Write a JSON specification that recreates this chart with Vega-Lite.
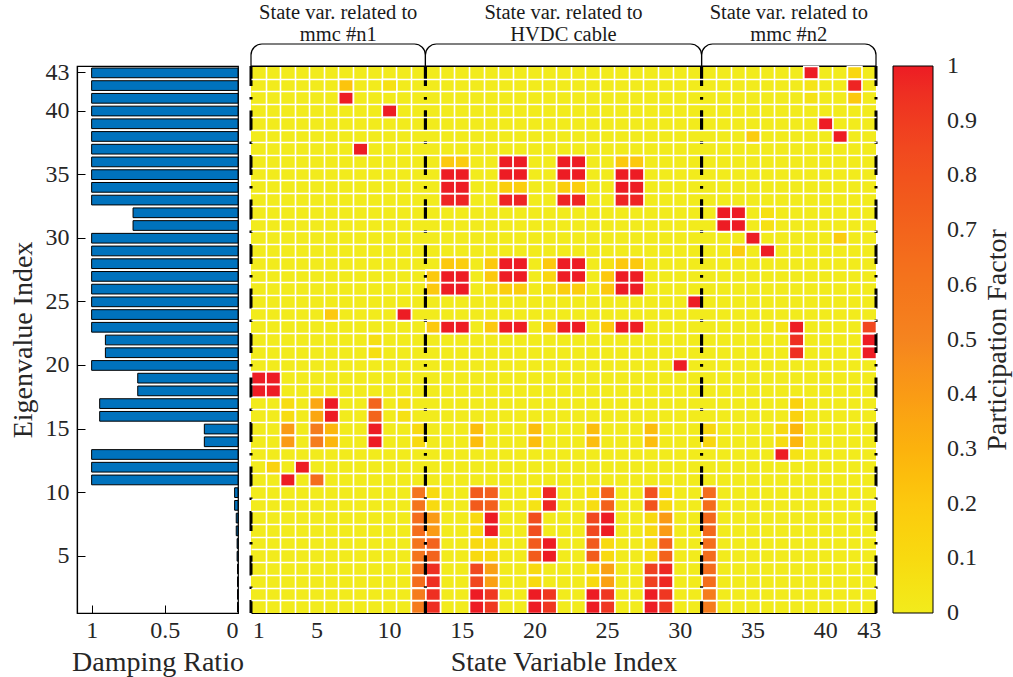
{
  "$schema": "https://vega.github.io/schema/vega-lite/v6.json",
  "background": "white",
  "padding": {"left": 8, "top": 0, "right": 2, "bottom": 0},
  "bounds": "flush",
  "columns": 2,
  "spacing": {"row": 0, "column": 13},
  "datasets": {
    "groups": [
      {"label": "State var. related to\nmmc #n1", "start": 0.5, "end": 12.5, "mid": 6.5},
      {"label": "State var. related to\nHVDC cable", "start": 12.5, "end": 31.5, "mid": 22},
      {"label": "State var. related to\nmmc #n2", "start": 31.5, "end": 43.5, "mid": 37.5}
    ],
    "damping": [
      {"e": 43, "d": 1}, {"e": 42, "d": 1}, {"e": 41, "d": 1}, {"e": 40, "d": 1}, {"e": 39, "d": 1},
      {"e": 38, "d": 1}, {"e": 37, "d": 1}, {"e": 36, "d": 1}, {"e": 35, "d": 1}, {"e": 34, "d": 1},
      {"e": 33, "d": 1}, {"e": 32, "d": 0.717}, {"e": 31, "d": 0.717}, {"e": 30, "d": 1}, {"e": 29, "d": 1},
      {"e": 28, "d": 1}, {"e": 27, "d": 1}, {"e": 26, "d": 1}, {"e": 25, "d": 1}, {"e": 24, "d": 1},
      {"e": 23, "d": 1}, {"e": 22, "d": 0.906}, {"e": 21, "d": 0.906}, {"e": 20, "d": 1}, {"e": 19, "d": 0.685},
      {"e": 18, "d": 0.685}, {"e": 17, "d": 0.945}, {"e": 16, "d": 0.945}, {"e": 15, "d": 0.23}, {"e": 14, "d": 0.23},
      {"e": 13, "d": 1}, {"e": 12, "d": 1}, {"e": 11, "d": 1}, {"e": 10, "d": 0.023}, {"e": 9, "d": 0.023},
      {"e": 8, "d": 0.012}, {"e": 7, "d": 0.012}, {"e": 6, "d": 0.006}, {"e": 5, "d": 0.006}, {"e": 4, "d": 0.003},
      {"e": 3, "d": 0.003}, {"e": 2, "d": 0.003}, {"e": 1, "d": 0.003}
    ],
    "cells": [
      {"r": 43, "c": 39, "v": 1}, {"r": 43, "c": 42, "v": 0.12},
      {"r": 42, "c": 7, "v": 0.22}, {"r": 42, "c": 10, "v": 0.06}, {"r": 42, "c": 39, "v": 0.04}, {"r": 42, "c": 42, "v": 0.98},
      {"r": 41, "c": 7, "v": 1}, {"r": 41, "c": 39, "v": 0.05}, {"r": 41, "c": 42, "v": 0.2},
      {"r": 40, "c": 10, "v": 1},
      {"r": 39, "c": 40, "v": 1},
      {"r": 38, "c": 35, "v": 0.18}, {"r": 38, "c": 41, "v": 1},
      {"r": 37, "c": 8, "v": 1},
      {"r": 36, "c": 14, "v": 0.2}, {"r": 36, "c": 15, "v": 0.18}, {"r": 36, "c": 18, "v": 1}, {"r": 36, "c": 19, "v": 1},
      {"r": 36, "c": 22, "v": 1}, {"r": 36, "c": 23, "v": 1}, {"r": 36, "c": 26, "v": 0.2}, {"r": 36, "c": 27, "v": 0.2},
      {"r": 35, "c": 14, "v": 1}, {"r": 35, "c": 15, "v": 1}, {"r": 35, "c": 18, "v": 1}, {"r": 35, "c": 19, "v": 1},
      {"r": 35, "c": 22, "v": 1}, {"r": 35, "c": 23, "v": 1}, {"r": 35, "c": 26, "v": 1}, {"r": 35, "c": 27, "v": 1},
      {"r": 34, "c": 14, "v": 1}, {"r": 34, "c": 15, "v": 1}, {"r": 34, "c": 18, "v": 0.17}, {"r": 34, "c": 19, "v": 0.17},
      {"r": 34, "c": 22, "v": 0.17}, {"r": 34, "c": 23, "v": 0.17}, {"r": 34, "c": 26, "v": 1}, {"r": 34, "c": 27, "v": 1},
      {"r": 33, "c": 14, "v": 0.98}, {"r": 33, "c": 15, "v": 0.98}, {"r": 33, "c": 18, "v": 0.98}, {"r": 33, "c": 19, "v": 0.98},
      {"r": 33, "c": 22, "v": 0.98}, {"r": 33, "c": 23, "v": 0.98}, {"r": 33, "c": 26, "v": 0.98}, {"r": 33, "c": 27, "v": 0.98},
      {"r": 32, "c": 33, "v": 1}, {"r": 32, "c": 34, "v": 1}, {"r": 32, "c": 36, "v": 0.06},
      {"r": 31, "c": 33, "v": 1}, {"r": 31, "c": 34, "v": 1}, {"r": 31, "c": 36, "v": 0.06},
      {"r": 30, "c": 35, "v": 1}, {"r": 30, "c": 41, "v": 0.18},
      {"r": 29, "c": 34, "v": 0.18}, {"r": 29, "c": 36, "v": 1},
      {"r": 28, "c": 14, "v": 0.2}, {"r": 28, "c": 15, "v": 0.17}, {"r": 28, "c": 17, "v": 0.2}, {"r": 28, "c": 18, "v": 1},
      {"r": 28, "c": 19, "v": 1}, {"r": 28, "c": 21, "v": 0.2}, {"r": 28, "c": 22, "v": 1}, {"r": 28, "c": 23, "v": 1},
      {"r": 28, "c": 25, "v": 0.05}, {"r": 28, "c": 26, "v": 0.2}, {"r": 28, "c": 27, "v": 0.2},
      {"r": 27, "c": 13, "v": 0.2}, {"r": 27, "c": 14, "v": 1}, {"r": 27, "c": 15, "v": 1}, {"r": 27, "c": 17, "v": 0.2},
      {"r": 27, "c": 18, "v": 1}, {"r": 27, "c": 19, "v": 1}, {"r": 27, "c": 21, "v": 0.12}, {"r": 27, "c": 22, "v": 1},
      {"r": 27, "c": 23, "v": 1}, {"r": 27, "c": 25, "v": 0.2}, {"r": 27, "c": 26, "v": 1}, {"r": 27, "c": 27, "v": 1},
      {"r": 26, "c": 13, "v": 0.2}, {"r": 26, "c": 14, "v": 1}, {"r": 26, "c": 15, "v": 1}, {"r": 26, "c": 17, "v": 0.06},
      {"r": 26, "c": 18, "v": 0.17}, {"r": 26, "c": 19, "v": 0.17}, {"r": 26, "c": 21, "v": 0.06}, {"r": 26, "c": 22, "v": 0.17},
      {"r": 26, "c": 23, "v": 0.17}, {"r": 26, "c": 25, "v": 0.2}, {"r": 26, "c": 26, "v": 1}, {"r": 26, "c": 27, "v": 1},
      {"r": 25, "c": 31, "v": 1},
      {"r": 24, "c": 6, "v": 0.2}, {"r": 24, "c": 11, "v": 1},
      {"r": 23, "c": 13, "v": 0.2}, {"r": 23, "c": 14, "v": 1}, {"r": 23, "c": 15, "v": 1}, {"r": 23, "c": 17, "v": 0.2},
      {"r": 23, "c": 18, "v": 1}, {"r": 23, "c": 19, "v": 1}, {"r": 23, "c": 21, "v": 0.2}, {"r": 23, "c": 22, "v": 1},
      {"r": 23, "c": 23, "v": 1}, {"r": 23, "c": 25, "v": 0.2}, {"r": 23, "c": 26, "v": 1}, {"r": 23, "c": 27, "v": 1},
      {"r": 23, "c": 37, "v": 0.04}, {"r": 23, "c": 38, "v": 1}, {"r": 23, "c": 43, "v": 0.85},
      {"r": 22, "c": 9, "v": 0.07}, {"r": 22, "c": 38, "v": 0.95}, {"r": 22, "c": 43, "v": 1},
      {"r": 21, "c": 9, "v": 0.07}, {"r": 21, "c": 38, "v": 0.95}, {"r": 21, "c": 43, "v": 1},
      {"r": 20, "c": 30, "v": 1},
      {"r": 19, "c": 1, "v": 1}, {"r": 19, "c": 2, "v": 1},
      {"r": 18, "c": 1, "v": 1}, {"r": 18, "c": 2, "v": 1},
      {"r": 17, "c": 3, "v": 0.08}, {"r": 17, "c": 5, "v": 0.35}, {"r": 17, "c": 6, "v": 1}, {"r": 17, "c": 9, "v": 0.7},
      {"r": 17, "c": 11, "v": 0.06}, {"r": 17, "c": 38, "v": 0.15},
      {"r": 16, "c": 3, "v": 0.08}, {"r": 16, "c": 5, "v": 0.35}, {"r": 16, "c": 6, "v": 1}, {"r": 16, "c": 9, "v": 0.7},
      {"r": 16, "c": 11, "v": 0.06}, {"r": 16, "c": 38, "v": 0.15},
      {"r": 15, "c": 3, "v": 0.4}, {"r": 15, "c": 5, "v": 0.55}, {"r": 15, "c": 6, "v": 0.28}, {"r": 15, "c": 9, "v": 1},
      {"r": 15, "c": 12, "v": 0.1}, {"r": 15, "c": 16, "v": 0.25}, {"r": 15, "c": 20, "v": 0.25}, {"r": 15, "c": 24, "v": 0.25},
      {"r": 15, "c": 28, "v": 0.25}, {"r": 15, "c": 32, "v": 0.12}, {"r": 15, "c": 37, "v": 0.1}, {"r": 15, "c": 38, "v": 0.28},
      {"r": 14, "c": 3, "v": 0.4}, {"r": 14, "c": 5, "v": 0.55}, {"r": 14, "c": 6, "v": 0.28}, {"r": 14, "c": 9, "v": 1},
      {"r": 14, "c": 12, "v": 0.1}, {"r": 14, "c": 16, "v": 0.25}, {"r": 14, "c": 20, "v": 0.25}, {"r": 14, "c": 24, "v": 0.25},
      {"r": 14, "c": 28, "v": 0.25}, {"r": 14, "c": 32, "v": 0.12}, {"r": 14, "c": 37, "v": 0.08}, {"r": 14, "c": 38, "v": 0.28},
      {"r": 13, "c": 37, "v": 1}, {"r": 13, "c": 38, "v": 0.05},
      {"r": 12, "c": 2, "v": 0.15}, {"r": 12, "c": 4, "v": 1},
      {"r": 11, "c": 3, "v": 1}, {"r": 11, "c": 5, "v": 0.65},
      {"r": 10, "c": 12, "v": 0.6}, {"r": 10, "c": 13, "v": 0.1}, {"r": 10, "c": 16, "v": 0.75}, {"r": 10, "c": 17, "v": 0.72},
      {"r": 10, "c": 20, "v": 0.05}, {"r": 10, "c": 21, "v": 0.97}, {"r": 10, "c": 24, "v": 0.08}, {"r": 10, "c": 25, "v": 0.72},
      {"r": 10, "c": 28, "v": 0.8}, {"r": 10, "c": 29, "v": 0.1}, {"r": 10, "c": 32, "v": 0.65},
      {"r": 9, "c": 12, "v": 0.6}, {"r": 9, "c": 13, "v": 0.1}, {"r": 9, "c": 16, "v": 0.75}, {"r": 9, "c": 17, "v": 0.72},
      {"r": 9, "c": 20, "v": 0.05}, {"r": 9, "c": 21, "v": 0.97}, {"r": 9, "c": 24, "v": 0.08}, {"r": 9, "c": 25, "v": 0.72},
      {"r": 9, "c": 28, "v": 0.8}, {"r": 9, "c": 29, "v": 0.1}, {"r": 9, "c": 32, "v": 0.65},
      {"r": 8, "c": 12, "v": 0.65}, {"r": 8, "c": 13, "v": 0.4}, {"r": 8, "c": 16, "v": 0.1}, {"r": 8, "c": 17, "v": 1},
      {"r": 8, "c": 20, "v": 0.82}, {"r": 8, "c": 24, "v": 0.85}, {"r": 8, "c": 25, "v": 1}, {"r": 8, "c": 28, "v": 0.1},
      {"r": 8, "c": 29, "v": 0.4}, {"r": 8, "c": 32, "v": 0.68},
      {"r": 7, "c": 12, "v": 0.65}, {"r": 7, "c": 13, "v": 0.4}, {"r": 7, "c": 16, "v": 0.1}, {"r": 7, "c": 17, "v": 1},
      {"r": 7, "c": 20, "v": 0.82}, {"r": 7, "c": 24, "v": 0.85}, {"r": 7, "c": 25, "v": 1}, {"r": 7, "c": 28, "v": 0.1},
      {"r": 7, "c": 29, "v": 0.4}, {"r": 7, "c": 32, "v": 0.68},
      {"r": 6, "c": 12, "v": 0.6}, {"r": 6, "c": 13, "v": 0.7}, {"r": 6, "c": 16, "v": 0.1}, {"r": 6, "c": 17, "v": 0.1},
      {"r": 6, "c": 20, "v": 0.75}, {"r": 6, "c": 21, "v": 1}, {"r": 6, "c": 24, "v": 0.75}, {"r": 6, "c": 25, "v": 0.1},
      {"r": 6, "c": 28, "v": 0.08}, {"r": 6, "c": 29, "v": 0.72}, {"r": 6, "c": 32, "v": 0.65},
      {"r": 5, "c": 12, "v": 0.6}, {"r": 5, "c": 13, "v": 0.7}, {"r": 5, "c": 16, "v": 0.1}, {"r": 5, "c": 17, "v": 0.1},
      {"r": 5, "c": 20, "v": 0.75}, {"r": 5, "c": 21, "v": 1}, {"r": 5, "c": 24, "v": 0.75}, {"r": 5, "c": 25, "v": 0.1},
      {"r": 5, "c": 28, "v": 0.08}, {"r": 5, "c": 29, "v": 0.72}, {"r": 5, "c": 32, "v": 0.65},
      {"r": 4, "c": 12, "v": 0.65}, {"r": 4, "c": 13, "v": 0.95}, {"r": 4, "c": 16, "v": 0.85}, {"r": 4, "c": 17, "v": 0.38},
      {"r": 4, "c": 20, "v": 0.1}, {"r": 4, "c": 24, "v": 0.1}, {"r": 4, "c": 25, "v": 0.38}, {"r": 4, "c": 28, "v": 0.88},
      {"r": 4, "c": 29, "v": 0.97}, {"r": 4, "c": 32, "v": 0.65},
      {"r": 3, "c": 12, "v": 0.65}, {"r": 3, "c": 13, "v": 0.95}, {"r": 3, "c": 16, "v": 0.85}, {"r": 3, "c": 17, "v": 0.38},
      {"r": 3, "c": 20, "v": 0.1}, {"r": 3, "c": 24, "v": 0.1}, {"r": 3, "c": 25, "v": 0.38}, {"r": 3, "c": 28, "v": 0.88},
      {"r": 3, "c": 29, "v": 0.97}, {"r": 3, "c": 32, "v": 0.65},
      {"r": 2, "c": 12, "v": 0.55}, {"r": 2, "c": 13, "v": 0.95}, {"r": 2, "c": 16, "v": 1}, {"r": 2, "c": 17, "v": 0.92},
      {"r": 2, "c": 20, "v": 1}, {"r": 2, "c": 21, "v": 0.92}, {"r": 2, "c": 24, "v": 1}, {"r": 2, "c": 25, "v": 0.92},
      {"r": 2, "c": 28, "v": 1}, {"r": 2, "c": 29, "v": 0.92}, {"r": 2, "c": 32, "v": 0.55},
      {"r": 1, "c": 12, "v": 0.55}, {"r": 1, "c": 13, "v": 0.95}, {"r": 1, "c": 16, "v": 1}, {"r": 1, "c": 17, "v": 0.92},
      {"r": 1, "c": 20, "v": 1}, {"r": 1, "c": 21, "v": 0.92}, {"r": 1, "c": 24, "v": 1}, {"r": 1, "c": 25, "v": 0.92},
      {"r": 1, "c": 28, "v": 1}, {"r": 1, "c": 29, "v": 0.92}, {"r": 1, "c": 32, "v": 0.55}
    ]
  },
  "concat": [
    {
      "width": 161,
      "height": 66,
      "view": {"stroke": null},
      "data": {"values": [{}]},
      "mark": {"type": "text"},
      "encoding": {}
    },
    {
      "width": 625,
      "height": 66,
      "view": {"stroke": null},
      "data": {"name": "groups"},
      "layer": [
        {
          "mark": {"type": "rect", "fill": "white", "fillOpacity": 0, "stroke": "black", "strokeWidth": 1.2,
                   "cornerRadiusTopLeft": 14, "cornerRadiusTopRight": 14},
          "encoding": {
            "x": {"field": "start", "type": "quantitative", "scale": {"domain": [0.5, 43.5], "nice": false, "zero": false}, "axis": null},
            "x2": {"field": "end"},
            "y": {"datum": 1, "type": "quantitative", "scale": {"domain": [0, 3], "nice": false, "zero": false}, "axis": null},
            "y2": {"datum": 0}
          }
        },
        {
          "mark": {"type": "text", "lineBreak": "\n", "font": "Liberation Serif, Times New Roman, Times, DejaVu Serif, serif",
                   "fontSize": 20.5, "lineHeight": 22, "align": "center", "baseline": "alphabetic", "color": "#1a1a1a"},
          "encoding": {
            "x": {"field": "mid", "type": "quantitative"},
            "y": {"datum": 2.14, "type": "quantitative"},
            "text": {"field": "label"}
          }
        }
      ]
    },
    {
      "width": 161,
      "height": 547,
      "data": {"name": "damping"},
      "view": {"stroke": "black", "strokeWidth": 1.2},
      "layer": [
        {
          "mark": {"type": "bar", "fill": "#0072bd", "stroke": "black", "strokeWidth": 1, "binSpacing": 3},
          "encoding": {
            "y": {
              "field": "e", "type": "quantitative",
              "bin": {"step": 1, "extent": [0.5, 43.5], "nice": false},
              "scale": {"domain": [0.5, 43.5], "nice": false, "zero": false},
              "axis": {"orient": "left", "values": [5, 10, 15, 20, 25, 30, 35, 40, 43], "format": "d",
                       "tickSize": -8, "labelPadding": 16, "domainWidth": 1.2,
                       "title": "Eigenvalue Index", "titlePadding": 8, "grid": false}
            },
            "x": {
              "field": "d", "type": "quantitative",
              "scale": {"domain": [0, 1.1], "reverse": true, "nice": false, "zero": false},
              "axis": {"values": [0, 0.5, 1], "labelExpr": "datum.value == 0.5 ? '0.5' : '' + datum.value",
                       "tickSize": -8, "labelPadding": 13, "domainWidth": 1.2,
                       "title": "Damping Ratio", "titlePadding": 6, "grid": false}
            }
          }
        }
      ]
    },
    {
      "width": 625,
      "height": 547,
      "view": {"fill": "#f2eb1c", "stroke": null},
      "layer": [
        {
          "data": {"name": "cells"},
          "mark": {"type": "rect", "stroke": "white", "strokeWidth": 1.6},
          "encoding": {
            "x": {
              "field": "c", "type": "quantitative",
              "bin": {"step": 1, "extent": [0.5, 43.5], "nice": false},
              "scale": {"domain": [0.5, 43.5], "nice": false, "zero": false},
              "axis": {"orient": "bottom", "values": [1, 5, 10, 15, 20, 25, 30, 35, 40, 43], "format": "d",
                       "ticks": false, "labelPadding": 5, "title": "State Variable Index", "titlePadding": 6,
                       "grid": false, "domainWidth": 1.2}
            },
            "y": {
              "field": "r", "type": "quantitative",
              "bin": {"step": 1, "extent": [0.5, 43.5], "nice": false},
              "scale": {"domain": [0.5, 43.5], "nice": false, "zero": false},
              "axis": {"orient": "left", "labels": false, "ticks": false, "domain": false, "title": null,
                       "grid": true, "gridColor": "white", "gridWidth": 1.6, "gridOpacity": 1,
                       "values": [1.5, 2.5, 3.5, 4.5, 5.5, 6.5, 7.5, 8.5, 9.5, 10.5, 11.5, 12.5, 13.5, 14.5, 15.5, 16.5,
                                  17.5, 18.5, 19.5, 20.5, 21.5, 22.5, 23.5, 24.5, 25.5, 26.5, 27.5, 28.5, 29.5, 30.5,
                                  31.5, 32.5, 33.5, 34.5, 35.5, 36.5, 37.5, 38.5, 39.5, 40.5, 41.5, 42.5]}
            },
            "color": {
              "field": "v", "type": "quantitative",
              "scale": {"domain": [0, 0.2, 0.5, 1], "range": ["#f2eb1c", "#fcc90e", "#f5841f", "#ed1c24"]},
              "legend": {
                "orient": "right", "offset": 17, "direction": "vertical",
                "gradientLength": 547, "gradientThickness": 40,
                "gradientStrokeColor": "black", "gradientStrokeWidth": 1,
                "values": [0, 0.1, 0.2, 0.3, 0.4, 0.5, 0.6, 0.7, 0.8, 0.9, 1],
                "labelExpr": "'' + datum.value", "labelOverlap": false,
                "labelFont": "Liberation Serif, Times New Roman, Times, DejaVu Serif, serif",
                "labelFontSize": 24, "labelColor": "#262626", "labelOffset": 14,
                "title": "Participation Factor", "titleOrient": "right", "titleAnchor": "middle",
                "titleLimit": 0,
                "titleFont": "Liberation Serif, Times New Roman, Times, DejaVu Serif, serif",
                "titleFontSize": 28, "titleFontWeight": "normal",
                "titleColor": "#262626", "titlePadding": 7,
                "encode": {
                  "title": {"update": {"angle": {"value": 270}, "baseline": {"value": "top"}}},
                  "labels": {"update": {"baseline": {"value": "middle"}}}
                }
              }
            }
          }
        },
        {
          "data": {"name": "groups"},
          "mark": {"type": "rule", "color": "black", "strokeWidth": 3, "strokeDash": [20, 11, 2.5, 11]},
          "encoding": {
            "x": {
              "field": "start", "type": "quantitative",
              "scale": {"domain": [0.5, 43.5], "nice": false, "zero": false},
              "axis": {"orient": "top", "labels": false, "ticks": false, "domain": true, "domainWidth": 1.2, "title": null,
                       "grid": true, "gridColor": "white", "gridWidth": 1.6, "gridOpacity": 1,
                       "values": [1.5, 2.5, 3.5, 4.5, 5.5, 6.5, 7.5, 8.5, 9.5, 10.5, 11.5, 13.5, 14.5, 15.5, 16.5,
                                  17.5, 18.5, 19.5, 20.5, 21.5, 22.5, 23.5, 24.5, 25.5, 26.5, 27.5, 28.5, 29.5, 30.5,
                                  32.5, 33.5, 34.5, 35.5, 36.5, 37.5, 38.5, 39.5, 40.5, 41.5, 42.5]}
            }
          }
        },
        {
          "data": {"name": "groups"},
          "mark": {"type": "rule", "color": "black", "strokeWidth": 3, "strokeDash": [20, 11, 2.5, 11]},
          "encoding": {
            "x": {"field": "end", "type": "quantitative", "scale": {"domain": [0.5, 43.5], "nice": false, "zero": false}, "axis": null}
          }
        }
      ],
      "resolve": {"axis": {"x": "independent"}}
    }
  ],
  "resolve": {"scale": {"color": "independent"}, "legend": {"color": "independent"}},
  "config": {
    "font": "Liberation Serif, Times New Roman, Times, DejaVu Serif, serif",
    "axis": {
      "labelFont": "Liberation Serif, Times New Roman, Times, DejaVu Serif, serif",
      "labelFontSize": 24, "labelColor": "#262626",
      "titleFont": "Liberation Serif, Times New Roman, Times, DejaVu Serif, serif",
      "titleFontSize": 28, "titleFontWeight": "normal", "titleColor": "#262626",
      "domainColor": "black", "tickColor": "black", "grid": false
    }
  }
}
